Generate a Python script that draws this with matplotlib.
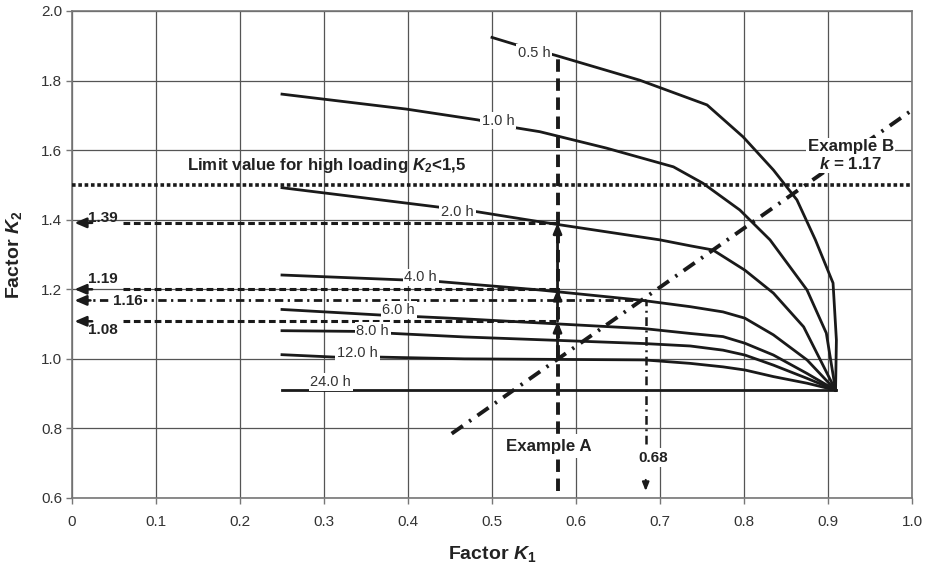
import matplotlib

matplotlib.use("Agg")
import matplotlib.pyplot as plt
from matplotlib.ticker import FuncFormatter, MultipleLocator

plt.rcParams["font.family"] = ["Liberation Sans", "DejaVu Sans"]
plt.rcParams["mathtext.fontset"] = "custom"
plt.rcParams["mathtext.it"] = "Liberation Sans:italic:bold"
plt.rcParams["mathtext.rm"] = "Liberation Sans:bold"
plt.rcParams["mathtext.bf"] = "Liberation Sans:bold"

# ---- curves K2 = f(K1) per loading time ----
k1_05 = [0.50, 0.53, 0.575, 0.676, 0.756, 0.799, 0.835, 0.863, 0.885, 0.906, 0.910, 0.909]
k2_05 = [1.924, 1.902, 1.873, 1.801, 1.730, 1.638, 1.543, 1.457, 1.342, 1.218, 1.054, 0.91]

k1_10 = [0.25, 0.398, 0.483, 0.529, 0.557, 0.636, 0.716, 0.751, 0.795, 0.831, 0.875, 0.898, 0.909]
k2_10 = [1.761, 1.718, 1.687, 1.664, 1.653, 1.606, 1.552, 1.505, 1.428, 1.342, 1.198, 1.074, 0.91]

k1_20 = [0.25, 0.434, 0.482, 0.557, 0.70, 0.736, 0.763, 0.801, 0.835, 0.871, 0.909]
k2_20 = [1.492, 1.437, 1.423, 1.394, 1.342, 1.325, 1.313, 1.255, 1.189, 1.092, 0.91]

k1_40 = [0.25, 0.394, 0.438, 0.557, 0.676, 0.736, 0.775, 0.801, 0.835, 0.875, 0.909]
k2_40 = [1.241, 1.227, 1.222, 1.198, 1.169, 1.150, 1.135, 1.117, 1.069, 0.997, 0.91]

k1_60 = [0.25, 0.367, 0.414, 0.467, 0.681, 0.736, 0.775, 0.801, 0.835, 0.875, 0.909]
k2_60 = [1.142, 1.126, 1.121, 1.115, 1.087, 1.073, 1.064, 1.045, 1.011, 0.958, 0.91]

k1_80 = [0.25, 0.337, 0.383, 0.467, 0.681, 0.736, 0.775, 0.801, 0.835, 0.875, 0.909]
k2_80 = [1.081, 1.079, 1.073, 1.063, 1.044, 1.037, 1.025, 1.011, 0.982, 0.944, 0.91]

k1_120 = [0.25, 0.313, 0.367, 0.467, 0.681, 0.736, 0.775, 0.801, 0.835, 0.875, 0.909]
k2_120 = [1.012, 1.005, 1.005, 1.000, 0.997, 0.987, 0.977, 0.968, 0.949, 0.930, 0.91]

k1_240 = [0.25, 0.909]
k2_240 = [0.91, 0.91]

curve_labels = ["0.5 h", "1.0 h", "2.0 h", "4.0 h", "6.0 h", "8.0 h", "12.0 h", "24.0 h"]
label_k1 = [0.550, 0.507, 0.459, 0.415, 0.389, 0.358, 0.340, 0.308]
label_k2 = [1.879, 1.685, 1.423, 1.234, 1.140, 1.080, 1.017, 0.933]

limit_k2 = 1.5

# example A: K1 = 0.58, readings on the K2 axis
exA_k1 = 0.578
exA_k2 = [1.0, 1.108, 1.20, 1.391]
exA_top = 1.868
read_text = ["1.08", "1.19", "1.39"]

# example B: k = 1.17 line, reading 1.16 / 0.68
exB_k1 = [0.452, 1.0]
exB_k2 = [0.785, 1.715]
exB_read_k1 = 0.683
exB_read_k2 = 1.168

fig = plt.figure(figsize=(9.28, 5.64), dpi=100)
ax = fig.add_axes([72 / 928, 66 / 564, 840 / 928, 487 / 564])

curves = [(k1_05, k2_05), (k1_10, k2_10), (k1_20, k2_20), (k1_40, k2_40),
          (k1_60, k2_60), (k1_80, k2_80), (k1_120, k2_120), (k1_240, k2_240)]
for xs, ys in curves:
    ax.plot(xs, ys, color="#1a1a1a", lw=2.0, zorder=4, solid_joinstyle="round")

box = dict(boxstyle="square,pad=0.12", fc="white", ec="none")
for t, x, y in zip(curve_labels, label_k1, label_k2):
    ax.text(x, y, t, fontsize=10.5, color="#333333", ha="center", va="center", bbox=box, zorder=6)

# limit line
ax.axhline(limit_k2, color="#1a1a1a", lw=2.6, linestyle=(0, (1, 0.75)), zorder=3)
ax.text(0.137, limit_k2 + 0.057, r"Limit value for high loading $K_2$<1,5",
        fontsize=12.2, fontweight="bold", color="#222222", ha="left", va="center", zorder=6)

# example A
dash_thick = (0, (2.2, 1.2))
ax.plot([exA_k1, exA_k1], [0.62, exA_top], color="#1a1a1a", lw=2.8,
        linestyle=(0, (3.2, 1.7)), zorder=5)
for lo, hi in zip(exA_k2[:-1], exA_k2[1:]):
    ax.annotate("", xy=(exA_k1, hi), xytext=(exA_k1, lo),
                arrowprops=dict(arrowstyle="-|>,head_length=0.6,head_width=0.25",
                                color="#1a1a1a", lw=2.0, shrinkA=0, shrinkB=0), zorder=6)
for y in exA_k2[1:]:
    ax.plot([0.061, exA_k1], [y, y], color="#1a1a1a", lw=2.2, linestyle=dash_thick, zorder=5)
    ax.annotate("", xy=(0.003, y), xytext=(0.024, y),
                arrowprops=dict(arrowstyle="-|>,head_length=0.7,head_width=0.3",
                                color="#1a1a1a", lw=1.8, shrinkA=0, shrinkB=0), zorder=6)

ax.text(0.0367, 1.404, read_text[2], fontsize=11, fontweight="bold", color="#222222",
        ha="center", va="center", zorder=6)
ax.text(0.037, 1.229, read_text[1], fontsize=11, fontweight="bold", color="#222222",
        ha="center", va="center", zorder=6)
ax.text(0.0365, 1.083, read_text[0], fontsize=11, fontweight="bold", color="#222222",
        ha="center", va="center", zorder=6)
ax.text(0.568, 0.749, "Example A", fontsize=12.2, fontweight="bold", color="#222222",
        ha="center", va="center", bbox=dict(boxstyle="square,pad=0.25", fc="white", ec="none"),
        zorder=7)

# example B
ax.plot(exB_k1, exB_k2, color="#1a1a1a", lw=2.8, linestyle=(0, (3.5, 2.0, 0.6, 2.0)), zorder=5)
ax.plot([0.01, exB_read_k1], [exB_read_k2, exB_read_k2], color="#1a1a1a", lw=2.0,
        linestyle=(0, (3.0, 1.6, 0.8, 1.6)), zorder=5)
ax.annotate("", xy=(0.003, exB_read_k2), xytext=(0.022, exB_read_k2),
            arrowprops=dict(arrowstyle="-|>,head_length=0.7,head_width=0.3",
                            color="#1a1a1a", lw=1.8, shrinkA=0, shrinkB=0), zorder=6)
ax.text(0.066, 1.167, "1.16", fontsize=11, fontweight="bold", color="#222222",
        ha="center", va="center", bbox=dict(boxstyle="square,pad=0.1", fc="white", ec="none"),
        zorder=7)
ax.plot([exB_read_k1, exB_read_k1], [0.755, exB_read_k2], color="#1a1a1a", lw=1.8,
        linestyle=(0, (3.5, 1.8, 0.8, 1.8)), zorder=5)
ax.annotate("", xy=(exB_read_k1, 0.62), xytext=(exB_read_k1, 0.652),
            arrowprops=dict(arrowstyle="-|>,head_length=0.5,head_width=0.2",
                            color="#1a1a1a", lw=1.5, shrinkA=0, shrinkB=0), zorder=6)
ax.text(0.692, 0.716, "0.68", fontsize=11, fontweight="bold", color="#222222",
        ha="center", va="center", bbox=dict(boxstyle="square,pad=0.15", fc="white", ec="none"),
        zorder=7)
ax.text(0.927, 1.585, "Example B\n$k$ = 1.17", fontsize=12.2, fontweight="bold", color="#222222",
        ha="center", va="center", multialignment="center", linespacing=1.1,
        bbox=dict(boxstyle="square,pad=0.1", fc="white", ec="none"), zorder=7)

# axes
ax.set_xlim(0, 1.0)
ax.set_ylim(0.6, 2.0)
ax.xaxis.set_major_locator(MultipleLocator(0.1))
ax.yaxis.set_major_locator(MultipleLocator(0.2))
ax.xaxis.set_major_formatter(FuncFormatter(lambda v, p: "0" if abs(v) < 1e-9 else f"{v:.1f}"))
ax.yaxis.set_major_formatter(FuncFormatter(lambda v, p: f"{v:.1f}"))
ax.grid(True, color="#555555", lw=0.9, zorder=0)
ax.set_axisbelow(True)
for s in ax.spines.values():
    s.set_color("#777777")
    s.set_linewidth(1.2)
ax.tick_params(axis="x", direction="out", length=4, width=1, color="#777777",
               labelsize=11, labelcolor="#333333", pad=8)
ax.tick_params(axis="y", direction="out", length=4, width=1, color="#777777",
               labelsize=11, labelcolor="#333333", pad=3)

ax.set_xlabel("Factor $K_1$", fontsize=14, fontweight="bold", color="#222222")
ax.set_ylabel("Factor $K_2$", fontsize=14, fontweight="bold", color="#222222")
ax.xaxis.set_label_coords(0.5, -0.094)
ax.yaxis.set_label_coords(-0.057, 0.5)

fig.savefig("out.png", dpi=100)
plt.close(fig)
